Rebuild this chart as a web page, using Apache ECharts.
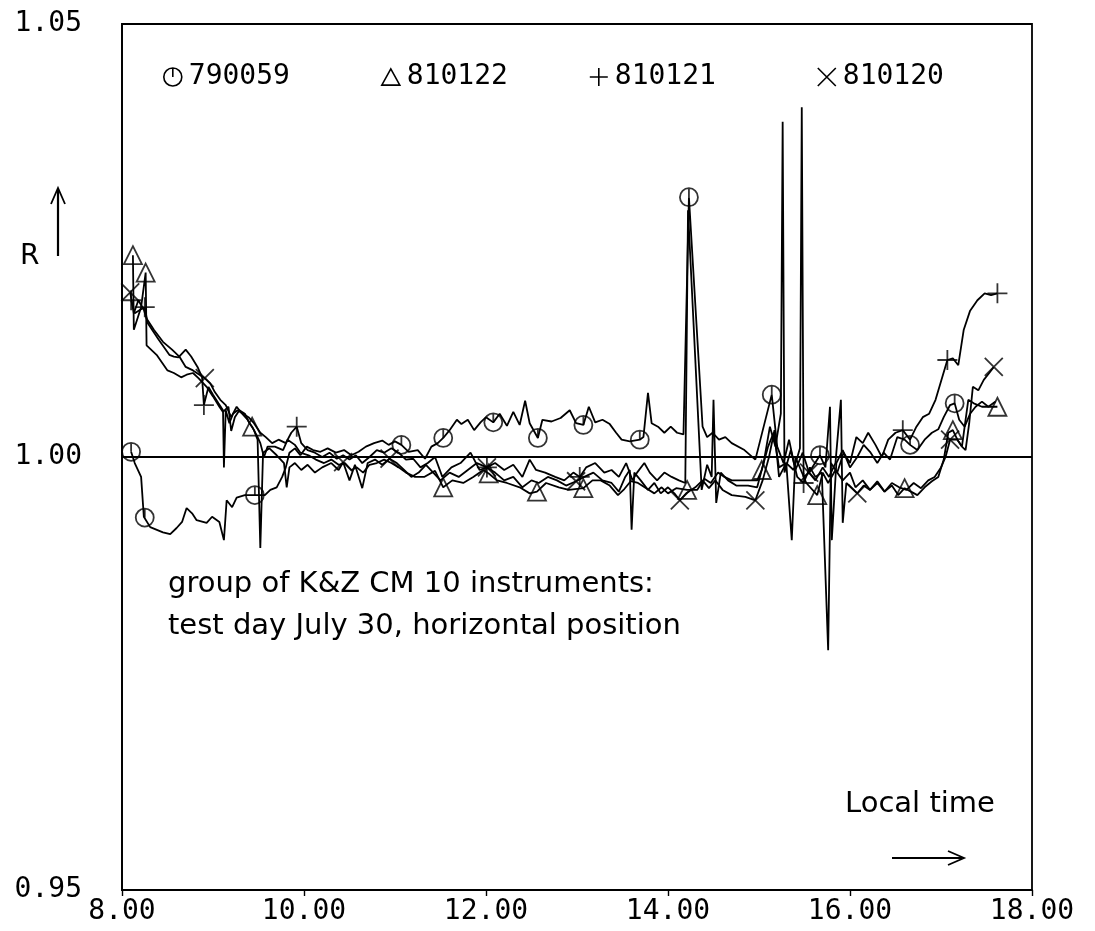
<!DOCTYPE html>
<html>
<head>
<meta charset="utf-8">
<script src="https://cdn.jsdelivr.net/npm/echarts@6/dist/echarts.min.js"></script>
<style>
  html, body { margin: 0; padding: 0; background: #fff; }
  #chart { width: 1095px; height: 931px; }
</style>
</head>
<body>
<div id="chart"></div>
<script>
// Axis ticks
const xTicks = [8, 10, 12, 14, 16, 18];
const yTicks = [0.95, 1.00, 1.05];

// Instrument ids (legend order)
const instruments = ['790059', '810122', '810121', '810120'];

// Ratio R versus local time [hour, R]
const r790059 = [
  [8.10, 1.0006], [8.14, 0.9993], [8.21, 0.9977], [8.23, 0.9977], [8.24, 0.9931], [8.25, 0.9930],
  [8.31, 0.9919], [8.45, 0.9913], [8.53, 0.9911], [8.60, 0.9918], [8.66, 0.9925], [8.71, 0.9941],
  [8.77, 0.9935], [8.82, 0.9927], [8.93, 0.9924], [8.99, 0.9931], [9.07, 0.9925], [9.12, 0.9904],
  [9.15, 0.9950], [9.21, 0.9942], [9.26, 0.9953], [9.35, 0.9956], [9.46, 0.9956], [9.57, 0.9956],
  [9.63, 0.9962], [9.70, 0.9965], [9.76, 0.9977], [9.80, 0.9988], [9.84, 1.0005], [9.90, 1.0010],
  [9.96, 1.0002], [10.03, 1.0012], [10.10, 1.0008], [10.18, 1.0006], [10.26, 1.0010], [10.35, 1.0005],
  [10.44, 1.0008], [10.52, 1.0002], [10.60, 1.0006], [10.68, 1.0012], [10.77, 1.0016], [10.86, 1.0019],
  [10.93, 1.0014], [11.00, 1.0018], [11.07, 1.0014], [11.15, 1.0006], [11.25, 1.0008], [11.33, 0.9998],
  [11.40, 1.0012], [11.47, 1.0016], [11.53, 1.0022], [11.60, 1.0031], [11.68, 1.0043], [11.73, 1.0038],
  [11.80, 1.0043], [11.87, 1.0031], [11.94, 1.0040], [12.00, 1.0046], [12.08, 1.0040], [12.15, 1.0050],
  [12.23, 1.0036], [12.30, 1.0052], [12.37, 1.0037], [12.43, 1.0065], [12.48, 1.0039], [12.57, 1.0022],
  [12.62, 1.0043], [12.72, 1.0041], [12.82, 1.0045], [12.92, 1.0054], [12.99, 1.0039], [13.07, 1.0037],
  [13.13, 1.0058], [13.20, 1.0040], [13.28, 1.0043], [13.36, 1.0038], [13.43, 1.0028], [13.49, 1.0020],
  [13.58, 1.0018], [13.69, 1.0020], [13.73, 1.0023], [13.78, 1.0074], [13.82, 1.0039], [13.89, 1.0035],
  [13.96, 1.0028], [14.03, 1.0035], [14.10, 1.0028], [14.17, 1.0026], [14.23, 1.0300], [14.38, 1.0035],
  [14.43, 1.0023], [14.49, 1.0028], [14.56, 1.0020], [14.63, 1.0023], [14.70, 1.0016], [14.84, 1.0008],
  [14.96, 0.9997], [15.14, 1.0072], [15.20, 1.0012], [15.27, 0.9993], [15.33, 1.0020], [15.40, 0.9985],
  [15.48, 1.0005], [15.55, 0.9982], [15.67, 1.0002], [15.73, 0.9988], [15.78, 1.0058], [15.80, 0.9904],
  [15.85, 0.9993], [15.92, 1.0008], [16.00, 0.9988], [16.08, 1.0000], [16.15, 1.0014], [16.22, 1.0006],
  [16.30, 0.9993], [16.37, 1.0005], [16.44, 0.9997], [16.52, 1.0023], [16.60, 1.0020], [16.66, 1.0014],
  [16.74, 1.0008], [16.82, 1.0020], [16.90, 1.0028], [16.97, 1.0032], [17.03, 1.0046], [17.10, 1.0060],
  [17.15, 1.0062], [17.20, 1.0043], [17.26, 1.0035], [17.32, 1.0050], [17.38, 1.0058], [17.45, 1.0064],
  [17.52, 1.0058], [17.60, 1.0064]
];

const r810122 = [
  [8.12, 1.0233], [8.13, 1.0147], [8.21, 1.0173], [8.26, 1.0213], [8.27, 1.0129], [8.38, 1.0118],
  [8.50, 1.0100], [8.57, 1.0097], [8.65, 1.0092], [8.71, 1.0095], [8.78, 1.0097], [8.84, 1.0091],
  [8.93, 1.0081], [9.00, 1.0070], [9.07, 1.0058], [9.11, 1.0052], [9.17, 1.0058], [9.20, 1.0030],
  [9.24, 1.0046], [9.29, 1.0054], [9.35, 1.0050], [9.40, 1.0039], [9.43, 1.0035], [9.49, 1.0023],
  [9.52, 1.0016], [9.56, 1.0000], [9.60, 1.0012], [9.68, 1.0012], [9.77, 1.0008], [9.82, 1.0020],
  [9.90, 1.0014], [9.96, 1.0005], [10.05, 1.0002], [10.13, 0.9997], [10.22, 0.9993], [10.30, 0.9997],
  [10.38, 0.9991], [10.45, 0.9993], [10.52, 0.9985], [10.58, 0.9988], [10.65, 0.9982], [10.72, 0.9991],
  [10.80, 0.9993], [10.88, 0.9997], [10.96, 0.9993], [11.04, 0.9988], [11.12, 0.9982], [11.22, 0.9977],
  [11.32, 0.9977], [11.44, 0.9984], [11.53, 0.9965], [11.63, 0.9973], [11.75, 0.9970], [11.86, 0.9977],
  [11.97, 0.9985], [12.03, 0.9981], [12.12, 0.9973], [12.23, 0.9970], [12.37, 0.9965], [12.48, 0.9958],
  [12.56, 0.9960], [12.66, 0.9970], [12.80, 0.9965], [12.91, 0.9962], [13.07, 0.9964], [13.17, 0.9973],
  [13.26, 0.9973], [13.36, 0.9967], [13.45, 0.9956], [13.52, 0.9963], [13.59, 0.9972], [13.67, 0.9970],
  [13.76, 0.9964], [13.85, 0.9958], [13.93, 0.9965], [14.00, 0.9958], [14.09, 0.9964], [14.21, 0.9962],
  [14.32, 0.9962], [14.40, 0.9975], [14.47, 0.9970], [14.55, 0.9982], [14.62, 0.9977], [14.70, 0.9973],
  [14.85, 0.9973], [14.98, 0.9973], [15.03, 0.9985], [15.10, 1.0012], [15.16, 1.0028], [15.22, 0.9988],
  [15.30, 0.9993], [15.36, 0.9904], [15.40, 1.0000], [15.46, 0.9985], [15.52, 0.9970], [15.64, 0.9956],
  [15.70, 0.9982], [15.76, 0.9970], [15.84, 0.9985], [15.92, 0.9973], [16.00, 0.9982], [16.06, 0.9965],
  [16.14, 0.9973], [16.22, 0.9962], [16.30, 0.9970], [16.38, 0.9960], [16.46, 0.9967], [16.53, 0.9956],
  [16.60, 0.9964], [16.67, 0.9960], [16.74, 0.9956], [16.82, 0.9965], [16.90, 0.9972], [16.97, 0.9977],
  [17.03, 0.9997], [17.08, 1.0028], [17.13, 1.0031], [17.18, 1.0020], [17.23, 1.0012], [17.30, 1.0066],
  [17.36, 1.0062], [17.45, 1.0058], [17.62, 1.0058]
];

const r810121 = [
  [8.10, 1.0181], [8.14, 1.0166], [8.20, 1.0170], [8.25, 1.0173], [8.28, 1.0155], [8.40, 1.0136],
  [8.52, 1.0118], [8.57, 1.0116], [8.62, 1.0115], [8.70, 1.0124], [8.76, 1.0116], [8.83, 1.0104],
  [8.88, 1.0092], [8.90, 1.0060], [8.95, 1.0081], [9.00, 1.0072], [9.06, 1.0062], [9.11, 1.0054],
  [9.12, 0.9988], [9.14, 1.0054], [9.18, 1.0039], [9.22, 1.0050], [9.27, 1.0054], [9.33, 1.0050],
  [9.39, 1.0046], [9.45, 1.0039], [9.52, 1.0028], [9.58, 1.0023], [9.65, 1.0016], [9.72, 1.0020],
  [9.80, 1.0016], [9.86, 1.0028], [9.92, 1.0035], [9.97, 1.0016], [10.04, 1.0008], [10.12, 1.0005],
  [10.20, 1.0000], [10.28, 1.0005], [10.36, 0.9998], [10.43, 1.0002], [10.50, 0.9997], [10.57, 1.0002],
  [10.64, 0.9993], [10.72, 1.0000], [10.80, 1.0008], [10.88, 1.0005], [10.96, 1.0010], [11.04, 1.0005],
  [11.12, 0.9997], [11.20, 0.9998], [11.28, 0.9988], [11.36, 0.9993], [11.44, 1.0000], [11.52, 0.9977],
  [11.62, 0.9988], [11.72, 0.9993], [11.83, 1.0005], [11.93, 0.9985], [12.01, 0.9988], [12.10, 0.9993],
  [12.20, 0.9985], [12.30, 0.9991], [12.40, 0.9977], [12.48, 0.9997], [12.55, 0.9985], [12.65, 0.9982],
  [12.76, 0.9977], [12.86, 0.9973], [12.96, 0.9982], [13.03, 0.9977], [13.10, 0.9988], [13.20, 0.9993],
  [13.30, 0.9982], [13.38, 0.9985], [13.46, 0.9977], [13.54, 0.9993], [13.61, 0.9973], [13.66, 0.9982],
  [13.74, 0.9993], [13.80, 0.9982], [13.88, 0.9973], [13.96, 0.9982], [14.04, 0.9977], [14.12, 0.9973],
  [14.19, 0.9970], [14.22, 1.0285], [14.37, 0.9962], [14.43, 0.9991], [14.48, 0.9977], [14.50, 1.0066],
  [14.53, 0.9947], [14.58, 0.9982], [14.66, 0.9973], [14.75, 0.9967], [14.88, 0.9967], [14.98, 0.9965],
  [15.05, 0.9993], [15.12, 1.0035], [15.18, 1.0012], [15.24, 1.0050], [15.26, 1.0387], [15.28, 0.9982],
  [15.35, 1.0008], [15.42, 0.9977], [15.49, 0.9970], [15.56, 0.9988], [15.62, 0.9977], [15.69, 0.9982],
  [15.76, 0.9777], [15.79, 0.9993], [15.86, 0.9982], [15.93, 1.0005], [16.00, 0.9993], [16.07, 1.0023],
  [16.14, 1.0016], [16.20, 1.0028], [16.28, 1.0014], [16.35, 1.0000], [16.42, 1.0020], [16.50, 1.0028],
  [16.58, 1.0031], [16.66, 1.0020], [16.73, 1.0035], [16.80, 1.0046], [16.87, 1.0050], [16.94, 1.0066],
  [17.07, 1.0112], [17.13, 1.0114], [17.19, 1.0106], [17.25, 1.0147], [17.32, 1.0169], [17.40, 1.0181],
  [17.48, 1.0189], [17.55, 1.0187], [17.62, 1.0189]
];

const r810120 = [
  [8.09, 1.0190], [8.13, 1.0166], [8.18, 1.0181], [8.24, 1.0170], [8.27, 1.0160], [8.35, 1.0147],
  [8.45, 1.0133], [8.55, 1.0124], [8.63, 1.0116], [8.70, 1.0104], [8.78, 1.0100], [8.91, 1.0091],
  [8.97, 1.0085], [9.02, 1.0075], [9.08, 1.0066], [9.14, 1.0060], [9.20, 1.0046], [9.26, 1.0058],
  [9.32, 1.0050], [9.38, 1.0043], [9.45, 1.0031], [9.49, 1.0020], [9.52, 0.9895], [9.55, 1.0005],
  [9.62, 1.0010], [9.70, 1.0002], [9.78, 0.9993], [9.81, 0.9965], [9.84, 0.9988], [9.90, 0.9993],
  [9.97, 0.9985], [10.04, 0.9991], [10.12, 0.9982], [10.20, 0.9988], [10.30, 0.9993], [10.38, 0.9985],
  [10.43, 0.9994], [10.50, 0.9973], [10.56, 0.9991], [10.64, 0.9964], [10.70, 0.9993], [10.78, 0.9997],
  [10.86, 0.9991], [10.94, 0.9998], [11.02, 0.9993], [11.10, 0.9985], [11.18, 0.9977], [11.26, 0.9982],
  [11.34, 0.9991], [11.42, 0.9982], [11.50, 0.9973], [11.60, 0.9982], [11.70, 0.9977], [11.80, 0.9985],
  [11.90, 0.9993], [12.01, 0.9988], [12.10, 0.9982], [12.20, 0.9973], [12.30, 0.9977], [12.40, 0.9965],
  [12.50, 0.9973], [12.58, 0.9970], [12.68, 0.9977], [12.78, 0.9973], [12.88, 0.9967], [12.99, 0.9972],
  [13.08, 0.9977], [13.18, 0.9982], [13.28, 0.9973], [13.38, 0.9970], [13.46, 0.9960], [13.53, 0.9977],
  [13.58, 0.9985], [13.60, 0.9916], [13.63, 0.9982], [13.70, 0.9973], [13.78, 0.9962], [13.85, 0.9970],
  [13.92, 0.9958], [14.00, 0.9965], [14.07, 0.9958], [14.13, 0.9950], [14.20, 0.9958], [14.30, 0.9965],
  [14.38, 0.9973], [14.45, 0.9964], [14.52, 0.9973], [14.60, 0.9962], [14.70, 0.9956], [14.85, 0.9954],
  [14.96, 0.9950], [15.04, 0.9973], [15.11, 1.0000], [15.17, 1.0031], [15.22, 0.9977], [15.30, 0.9993],
  [15.38, 0.9985], [15.45, 1.0010], [15.47, 1.0404], [15.49, 0.9977], [15.55, 0.9982], [15.62, 0.9973],
  [15.70, 0.9988], [15.77, 0.9977], [15.84, 0.9993], [15.90, 1.0066], [15.92, 0.9924], [15.96, 0.9970],
  [16.08, 0.9958], [16.15, 0.9967], [16.22, 0.9962], [16.30, 0.9972], [16.38, 0.9960], [16.46, 0.9970],
  [16.54, 0.9965], [16.62, 0.9962], [16.70, 0.9970], [16.78, 0.9964], [16.86, 0.9973], [16.93, 0.9977],
  [17.00, 0.9988], [17.05, 1.0000], [17.10, 1.0020], [17.18, 1.0020], [17.23, 1.0012], [17.27, 1.0008],
  [17.31, 1.0039], [17.35, 1.0081], [17.41, 1.0077], [17.47, 1.0089], [17.53, 1.0097], [17.58, 1.0104]
];

// Times at which each instrument's symbol is plotted
const marks790059 = [8.10, 8.25, 9.46, 11.07, 11.53, 12.08, 12.57, 13.07, 13.69, 14.23, 15.14, 15.67, 16.66, 17.15];
const marks810122 = [8.12, 8.26, 9.43, 11.53, 12.03, 12.56, 13.07, 14.21, 15.03, 15.64, 16.60, 17.13, 17.62];
const marks810121 = [8.10, 8.25, 8.90, 9.92, 12.01, 13.03, 15.49, 16.58, 17.07, 17.62];
const marks810120 = [8.09, 8.91, 10.43, 10.94, 12.01, 12.99, 14.13, 14.96, 15.55, 16.08, 17.10, 17.58];

const seriesData = [r790059, r810122, r810121, r810120];
const seriesMarks = [marks790059, marks810122, marks810121, marks810120];

// Plotter-style outline symbols
const symbolPaths = [
  'path://M10,0 A10,10 0 1,1 9.99,0 Z M10,0 L10,10',
  'path://M10,0 L20,18 L0,18 Z',
  'path://M10,0 L10,20 M0,10 L20,10',
  'path://M0,0 L20,20 M20,0 L0,20'
];
const symbolSizes = [18, 18, 20, 18];
const legendLeft = [163, 381, 589, 817];

const ink = '#000';
const plotFont = '"DejaVu Sans Mono", monospace';
const textFont = '"DejaVu Sans", sans-serif';

const series = [];
instruments.forEach((name, i) => {
  series.push({
    name: name,
    type: 'line',
    data: seriesData[i],
    showSymbol: false,
    symbol: 'none',
    lineStyle: { color: ink, width: 1.8 },
    itemStyle: { color: ink },
    silent: true,
    animation: false,
    z: 3
  });
  series.push({
    name: name,
    type: 'scatter',
    data: seriesData[i].filter(p => seriesMarks[i].includes(p[0])),
    symbol: symbolPaths[i],
    symbolSize: symbolSizes[i],
    itemStyle: { color: 'transparent', borderColor: ink, borderWidth: 1.8 },
    silent: true,
    animation: false,
    z: 4
  });
});

const chart = echarts.init(document.getElementById('chart'), null, { renderer: 'canvas' });

chart.setOption({
  backgroundColor: '#fff',
  animation: false,
  grid: {
    left: 122, right: 63, top: 24, bottom: 41,
    show: true, borderColor: ink, borderWidth: 1.8,
    containLabel: false
  },
  xAxis: {
    type: 'value',
    min: xTicks[0],
    max: xTicks[xTicks.length - 1],
    interval: xTicks[1] - xTicks[0],
    axisLine: { show: true, lineStyle: { color: ink, width: 1.8 } },
    axisTick: { show: true, inside: false, length: 6, lineStyle: { color: ink, width: 1.4 } },
    splitLine: { show: false },
    axisLabel: {
      color: ink, fontFamily: plotFont, fontSize: 28, margin: 8,
      formatter: v => xTicks.includes(v) ? v.toFixed(2) : ''
    }
  },
  yAxis: {
    type: 'value',
    min: yTicks[0],
    max: yTicks[yTicks.length - 1],
    interval: 0.05,
    axisLine: { show: true, lineStyle: { color: ink, width: 1.8 } },
    axisTick: { show: false },
    splitLine: { show: true, lineStyle: { color: ink, width: 1.8 } },
    axisLabel: {
      color: ink, fontFamily: plotFont, fontSize: 28, margin: 40,
      formatter: v => v.toFixed(2)
    }
  },
  legend: instruments.map((name, i) => ({
    data: [{ name: name, icon: symbolPaths[i] }],
    left: legendLeft[i],
    top: 63,
    padding: 0,
    itemWidth: 18,
    itemHeight: 18,
    selectedMode: false,
    itemStyle: { color: 'transparent', borderColor: ink, borderWidth: 1.6 },
    textStyle: { color: ink, fontFamily: plotFont, fontSize: 28, padding: [0, 0, 0, 2] }
  })),
  graphic: [
    // y quantity with upward arrow
    { type: 'text', left: 20, top: 243, style: { text: 'R', font: '28px ' + textFont, fill: ink } },
    { type: 'line', shape: { x1: 58, y1: 256, x2: 58, y2: 190 }, style: { stroke: ink, lineWidth: 2.2 } },
    { type: 'polyline', shape: { points: [[51, 204], [58, 188], [65, 204]] }, style: { stroke: ink, lineWidth: 1.8, fill: null } },
    // description
    {
      type: 'text', left: 168, top: 563,
      style: {
        text: 'group of K&Z CM 10 instruments:\ntest day July 30, horizontal position',
        font: '29px ' + textFont, fill: ink, lineHeight: 42
      }
    },
    // x quantity with rightward arrow
    { type: 'text', left: 845, top: 790, style: { text: 'Local time', font: '29px ' + textFont, fill: ink } },
    { type: 'line', shape: { x1: 892, y1: 858, x2: 962, y2: 858 }, style: { stroke: ink, lineWidth: 2.2 } },
    { type: 'polyline', shape: { points: [[948, 851], [964, 858], [948, 865]] }, style: { stroke: ink, lineWidth: 1.8, fill: null } }
  ],
  series: series
});
</script>
</body>
</html>
